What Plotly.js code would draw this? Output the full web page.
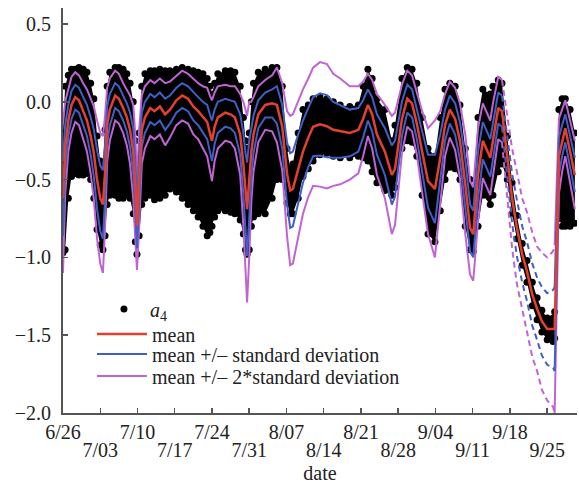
<!DOCTYPE html>
<html>
<head>
<meta charset="utf-8">
<script src="https://cdn.plot.ly/plotly-3.0.1.min.js"></script>
<style>html,body{margin:0;padding:0;background:#fff;}#chart{width:579px;height:485px;}</style>
</head>
<body>
<div id="chart"></div>
<script>
// ---- data (days since 6/26) ----
const days = [0.0,0.4,1.0,1.6,2.3,3.0,3.8,4.5,5.2,5.8,6.4,7.0,7.5,7.9,8.3,8.8,9.8,10.5,11.3,12.0,12.6,13.2,13.6,13.9,14.3,14.8,15.4,16.4,17.2,18.2,19.2,20.1,21.3,22.4,23.5,24.5,25.4,26.3,27.1,27.6,28.0,28.5,29.1,30.5,31.5,32.3,33.3,33.9,34.3,34.6,35.0,35.4,35.8,36.7,38.0,39.3,40.2,41.2,42.1,42.7,43.2,44.2,45.1,46.1,47.0,48.3,49.6,50.8,52.1,53.9,55.5,56.4,57.3,58.1,59.0,60.5,61.8,62.4,63.7,64.7,65.6,66.5,67.5,68.6,69.9,70.9,71.8,72.7,73.7,74.6,75.6,76.5,77.1,78.0,78.9,80.3,80.8,81.8,82.5,83.5,84.4,85.3,86.3,87.2,88.2,89.1,90.0,91.0,92.1,92.4,93.2,93.8,94.4,95.3,96.2];
const meanVals = [-0.62,-0.30,-0.12,-0.02,0.03,0.01,-0.06,-0.12,-0.22,-0.33,-0.50,-0.62,-0.66,-0.45,-0.15,-0.05,0.04,0.02,-0.04,-0.10,-0.18,-0.32,-0.55,-0.80,-0.50,-0.18,-0.10,-0.04,-0.06,-0.03,-0.08,-0.05,0.01,0.04,0.02,-0.03,-0.06,-0.10,-0.13,-0.20,-0.25,-0.16,-0.10,-0.07,-0.08,-0.10,-0.21,-0.40,-0.60,-0.69,-0.50,-0.32,-0.21,-0.08,-0.02,-0.01,-0.02,-0.16,-0.46,-0.57,-0.56,-0.43,-0.32,-0.23,-0.16,-0.145,-0.157,-0.18,-0.19,-0.20,-0.18,-0.11,-0.02,-0.08,-0.21,-0.32,-0.47,-0.43,-0.11,0.02,-0.01,-0.14,-0.32,-0.51,-0.56,-0.36,-0.15,-0.05,-0.11,-0.25,-0.53,-0.81,-0.85,-0.47,-0.25,-0.36,-0.25,-0.04,-0.06,-0.36,-0.62,-0.81,-0.98,-1.09,-1.24,-1.33,-1.41,-1.46,-1.46,-1.46,-0.35,-0.25,-0.17,-0.32,-0.47];
const sdVals = [0.24,0.15,0.10,0.09,0.08,0.08,0.09,0.10,0.12,0.15,0.19,0.21,0.22,0.18,0.12,0.10,0.08,0.08,0.08,0.09,0.11,0.15,0.17,0.14,0.16,0.11,0.10,0.09,0.09,0.09,0.10,0.09,0.08,0.08,0.08,0.09,0.09,0.10,0.11,0.12,0.13,0.11,0.10,0.09,0.09,0.10,0.13,0.20,0.27,0.30,0.25,0.16,0.12,0.09,0.08,0.09,0.12,0.14,0.20,0.24,0.24,0.22,0.20,0.19,0.19,0.20,0.20,0.18,0.17,0.15,0.14,0.12,0.10,0.11,0.13,0.15,0.19,0.18,0.11,0.09,0.09,0.10,0.13,0.17,0.22,0.15,0.10,0.09,0.10,0.12,0.16,0.15,0.15,0.15,0.12,0.12,0.12,0.10,0.10,0.14,0.16,0.18,0.18,0.19,0.20,0.20,0.22,0.23,0.25,0.27,0.12,0.10,0.09,0.10,0.11];
const a4Hi = [-0.20,0.10,0.17,0.21,0.21,0.22,0.21,0.19,0.12,0.02,-0.22,-0.38,-0.42,-0.18,0.10,0.19,0.22,0.22,0.21,0.18,0.12,0.00,-0.25,-0.50,-0.20,0.10,0.18,0.20,0.20,0.21,0.20,0.20,0.21,0.22,0.21,0.20,0.19,0.18,0.15,0.10,0.05,0.12,0.18,0.20,0.20,0.19,0.10,-0.10,-0.25,-0.30,-0.20,0.00,0.12,0.19,0.21,0.22,0.22,0.10,-0.30,-0.43,-0.40,-0.20,-0.05,-0.02,0.02,0.03,0.02,0.00,-0.02,-0.03,-0.02,0.10,0.21,0.15,0.02,-0.05,-0.25,-0.15,0.15,0.22,0.21,0.12,-0.10,-0.30,-0.35,-0.10,0.08,0.12,0.10,-0.02,-0.30,-0.50,-0.55,-0.10,0.08,0.05,0.10,0.14,0.12,-0.22,-0.52,-0.73,-0.91,-1.02,-1.16,-1.26,-1.34,-1.39,-1.39,-1.35,-0.05,0.02,0.02,-0.05,-0.20];
const a4Lo = [-0.97,-0.95,-0.62,-0.48,-0.46,-0.47,-0.47,-0.46,-0.50,-0.62,-0.82,-0.92,-0.95,-0.86,-0.66,-0.60,-0.60,-0.62,-0.62,-0.60,-0.62,-0.72,-0.90,-0.98,-0.86,-0.66,-0.62,-0.60,-0.63,-0.62,-0.60,-0.56,-0.58,-0.62,-0.66,-0.70,-0.74,-0.80,-0.86,-0.84,-0.80,-0.74,-0.70,-0.70,-0.71,-0.72,-0.76,-0.85,-0.95,-0.98,-0.95,-0.80,-0.74,-0.72,-0.72,-0.62,-0.50,-0.50,-0.65,-0.72,-0.72,-0.62,-0.48,-0.43,-0.38,-0.34,-0.33,-0.35,-0.36,-0.36,-0.35,-0.36,-0.38,-0.45,-0.52,-0.57,-0.60,-0.55,-0.30,-0.25,-0.26,-0.35,-0.60,-0.85,-0.90,-0.70,-0.50,-0.42,-0.43,-0.50,-0.80,-0.95,-0.96,-0.80,-0.60,-0.66,-0.60,-0.45,-0.40,-0.50,-0.72,-0.88,-1.05,-1.16,-1.31,-1.40,-1.48,-1.53,-1.54,-1.52,-0.75,-0.80,-0.80,-0.80,-0.78];
const weekDays = [0,7,14,21,28,35,42,49,56,63,70,77,84,91];
const weekLabels = ['6/26','7/03','7/10','7/17','7/24','7/31','8/07','8/14','8/21','8/28','9/04','9/11','9/18','9/25'];

// ---- styling ----
const DASH_FROM = 82.5, DASH_TO = 92.4;
const RED = '#e5402f', BLUE = '#3f5fc6', MAG = '#c063d4';
const FONT = 'Liberation Serif, Times New Roman, serif';

function band(k){ return meanVals.map((m,i)=> m + k*sdVals[i]); }
function part(arr, dashed){
  return arr.map((v,i)=>{
    const d = days[i];
    const inDash = d >= DASH_FROM && d <= DASH_TO;
    const edge = d === DASH_FROM || d === DASH_TO;
    return (dashed ? inDash : (!inDash || edge)) ? v : null;
  });
}
function bandTraces(k, color, name, legendId){
  const out = [];
  [k, -k].forEach((kk, j)=>{
    const arr = band(kk);
    out.push({x: days, y: part(arr,false), type:'scatter', mode:'lines',
      line:{color:color, width:2}, name:name, legend:legendId, showlegend: j===0, hoverinfo:'skip'});
    out.push({x: days, y: part(arr,true), type:'scatter', mode:'lines',
      line:{color:color, width:2, dash:'6px,4px'}, name:name, legend:legendId, showlegend:false, hoverinfo:'skip'});
  });
  return out;
}

const evenIdx = weekDays.map((d,i)=>i).filter(i=> i%2===0);
const oddIdx = weekDays.map((d,i)=>i).filter(i=> i%2===1);

const traces = [
  {x: days, y: a4Lo, type:'scatter', mode:'lines+markers', line:{color:'#000', width:0},
   marker:{color:'#000', size:7}, name:'<i>a</i><sub>4</sub>', legend:'legend'},
  {x: days, y: a4Hi, type:'scatter', mode:'lines+markers', fill:'tonexty', fillcolor:'#000',
   line:{color:'#000', width:0}, marker:{color:'#000', size:7}, showlegend:false, name:'a4 top'},
  ...bandTraces(2, MAG, 'mean +/– 2*standard deviation', 'legend4'),
  ...bandTraces(1, BLUE, 'mean +/– standard deviation', 'legend3'),
  {x: days, y: meanVals, type:'scatter', mode:'lines', line:{color:RED, width:2.5},
   name:'mean', legend:'legend2', xaxis:'x2', yaxis:'y'}
];

const legBase = {bgcolor:'rgba(0,0,0,0)', borderwidth:0, xanchor:'left', yanchor:'middle',
  font:{family:FONT, size:20, color:'#222'}, itemwidth:50};

const axisLine = {showline:true, linecolor:'#555', linewidth:2, showgrid:false, zeroline:false};

const layout = {
  width:579, height:485,
  margin:{l:63, r:2, t:8, b:72},
  paper_bgcolor:'#fff', plot_bgcolor:'rgba(0,0,0,0)',
  font:{family:FONT, size:20, color:'#222'},
  xaxis: Object.assign({range:[0,96.6], tickmode:'array',
    tickvals: evenIdx.map(i=>weekDays[i]), ticktext: evenIdx.map(i=>weekLabels[i]),
    ticks:'inside', ticklen:5, tickwidth:1.5, tickcolor:'#555',
    minor:{tickmode:'array', tickvals: weekDays, ticks:'inside', ticklen:5, tickwidth:1.5, tickcolor:'#555', showgrid:false},
    ticklabelstandoff:0,
    title:{text:'date', font:{family:FONT, size:20, color:'#222'}, standoff:24}}, axisLine),
  xaxis2:{range:[0,96.6], overlaying:'x', anchor:'y', side:'bottom', tickmode:'array',
    tickvals: oddIdx.map(i=>weekDays[i]), ticktext: oddIdx.map(i=>weekLabels[i]),
    ticks:'', showline:false, showgrid:false, zeroline:false, ticklabelstandoff:23},
  yaxis: Object.assign({range:[-2,0.603], tick0:-2, dtick:0.5, tickformat:'.1f',
    ticks:'inside', ticklen:5, tickwidth:1.5, tickcolor:'#555',
    ticklabelstandoff:6}, axisLine),
  legend: Object.assign({}, legBase, {x:0.068, y:0.257, itemwidth:42}),
  legend2: Object.assign({}, legBase, {x:0.0564, y:0.195}),
  legend3: Object.assign({}, legBase, {x:0.0564, y:0.1457}),
  legend4: Object.assign({}, legBase, {x:0.0564, y:0.0914}),
  showlegend:true
};

Plotly.newPlot('chart', traces, layout, {staticPlot:true, displayModeBar:false});
</script>
</body>
</html>
